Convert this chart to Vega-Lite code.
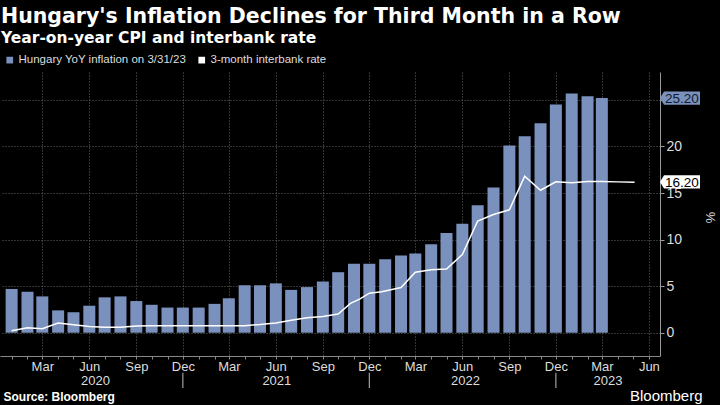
{
  "$schema": "https://vega.github.io/schema/vega-lite/v6.json",
  "width": 660,
  "height": 284,
  "autosize": {"type": "none"},
  "padding": {"left": 0, "top": 72, "right": 60, "bottom": 49},
  "background": "#000000",
  "title": {
    "text": "Hungary's Inflation Declines for Third Month in a Row",
    "subtitle": "Year-on-year CPI and interbank rate",
    "anchor": "start",
    "frame": "group",
    "dx": 1,
    "offset": 8,
    "font": "DejaVu Sans",
    "fontSize": 20.5,
    "fontWeight": "bold",
    "color": "#ffffff",
    "subtitleFont": "DejaVu Sans",
    "subtitleFontSize": 15.5,
    "subtitleFontWeight": "bold",
    "subtitleColor": "#ffffff",
    "subtitlePadding": 3
  },
  "config": {
    "view": {"stroke": null},
    "legend": {"orient": "none"}
  },
  "layer": [
    {
      "data": {
        "values": [
          {"date": "2020/01/01", "value": 4.7}, {"date": "2020/02/01", "value": 4.4}, {"date": "2020/03/01", "value": 3.9},
          {"date": "2020/04/01", "value": 2.4}, {"date": "2020/05/01", "value": 2.2}, {"date": "2020/06/01", "value": 2.9},
          {"date": "2020/07/01", "value": 3.8}, {"date": "2020/08/01", "value": 3.9}, {"date": "2020/09/01", "value": 3.4},
          {"date": "2020/10/01", "value": 3.0}, {"date": "2020/11/01", "value": 2.7}, {"date": "2020/12/01", "value": 2.7},
          {"date": "2021/01/01", "value": 2.7}, {"date": "2021/02/01", "value": 3.1}, {"date": "2021/03/01", "value": 3.7},
          {"date": "2021/04/01", "value": 5.1}, {"date": "2021/05/01", "value": 5.1}, {"date": "2021/06/01", "value": 5.3},
          {"date": "2021/07/01", "value": 4.6}, {"date": "2021/08/01", "value": 4.9}, {"date": "2021/09/01", "value": 5.5},
          {"date": "2021/10/01", "value": 6.5}, {"date": "2021/11/01", "value": 7.4}, {"date": "2021/12/01", "value": 7.4},
          {"date": "2022/01/01", "value": 7.9}, {"date": "2022/02/01", "value": 8.3}, {"date": "2022/03/01", "value": 8.5},
          {"date": "2022/04/01", "value": 9.5}, {"date": "2022/05/01", "value": 10.7}, {"date": "2022/06/01", "value": 11.7},
          {"date": "2022/07/01", "value": 13.7}, {"date": "2022/08/01", "value": 15.6}, {"date": "2022/09/01", "value": 20.1},
          {"date": "2022/10/01", "value": 21.1}, {"date": "2022/11/01", "value": 22.5}, {"date": "2022/12/01", "value": 24.5},
          {"date": "2023/01/01", "value": 25.7}, {"date": "2023/02/01", "value": 25.4}, {"date": "2023/03/01", "value": 25.2}
        ]
      },
      "mark": {"type": "bar", "size": 12},
      "encoding": {
        "x": {
          "field": "date", "type": "temporal",
          "scale": {"domain": [{"year": 2019, "month": 12, "date": 19}, {"year": 2023, "month": 6, "date": 13}]},
          "axis": {
            "orient": "bottom",
            "tickCount": {"interval": "month", "step": 1},
            "labelExpr": "month(datum.value) % 3 == 2 ? timeFormat(datum.value, '%b') : ''",
            "labelOverlap": false,
            "labelFlush": false,
            "labelFont": "Liberation Sans",
            "labelFontSize": 13,
            "labelColor": "#dddddd",
            "labelPadding": 1,
            "tickSize": 3,
            "tickColor": "#888888",
            "domainColor": "#888888",
            "grid": true,
            "gridColor": "#666666",
            "gridDash": [1, 2],
            "gridOpacity": {"condition": {"test": "month(datum.value) % 3 == 2", "value": 1}, "value": 0},
            "title": "Source: Bloomberg",
            "titleFont": "Liberation Sans",
            "titleFontSize": 12,
            "titleFontWeight": "bold",
            "titleColor": "#ffffff",
            "titleAnchor": "start",
            "titleAlign": "left",
            "titleBaseline": "alphabetic",
            "titleX": 3,
            "titleY": 44
          }
        },
        "y": {
          "field": "value", "type": "quantitative",
          "scale": {"domain": [-2.5, 28], "nice": false, "zero": false},
          "axis": {
            "orient": "right",
            "values": [0, 2.5, 5, 7.5, 10, 12.5, 15, 17.5, 20, 22.5, 25, 27.5],
            "labelExpr": "datum.value % 5 == 0 ? datum.label : ''",
            "labelFont": "Liberation Sans",
            "labelFontSize": 14,
            "labelColor": "#dddddd",
            "labelPadding": 2,
            "tickSize": 4,
            "tickColor": "#999999",
            "domainColor": "#999999",
            "grid": true,
            "gridColor": "#666666",
            "gridDash": [1, 2],
            "gridOpacity": {"condition": {"test": "datum.value % 5 == 0", "value": 1}, "value": 0},
            "title": "%",
            "titleFont": "Liberation Sans",
            "titleFontSize": 13,
            "titleFontWeight": "normal",
            "titleColor": "#dddddd",
            "titleAngle": 90,
            "titleBaseline": "middle",
            "titleAlign": "center",
            "titleX": 49,
            "titleY": 145
          }
        },
        "color": {
          "datum": "Hungary YoY inflation on 3/31/23", "type": "nominal",
          "scale": {"domain": ["Hungary YoY inflation on 3/31/23", "3-month interbank rate"], "range": ["#7a91bd", "#ffffff"]},
          "legend": {
            "title": null,
            "orient": "none",
            "legendX": 4,
            "legendY": -18,
            "direction": "horizontal",
            "symbolType": "square",
            "symbolSize": 45,
            "symbolStrokeWidth": 0,
            "labelFont": "Liberation Sans",
            "labelFontSize": 11.5,
            "labelColor": "#dddddd",
            "labelOffset": 3,
            "labelLimit": 400,
            "columnPadding": 9
          }
        }
      }
    },
    {
      "data": {
        "values": [
          {"date": "2020/01/01", "value": 0.22}, {"date": "2020/02/01", "value": 0.54}, {"date": "2020/03/01", "value": 0.43},
          {"date": "2020/04/01", "value": 1.04}, {"date": "2020/05/01", "value": 0.85}, {"date": "2020/06/01", "value": 0.68},
          {"date": "2020/07/01", "value": 0.58}, {"date": "2020/08/01", "value": 0.58}, {"date": "2020/09/01", "value": 0.72},
          {"date": "2020/10/01", "value": 0.75}, {"date": "2020/11/01", "value": 0.75}, {"date": "2020/12/01", "value": 0.75},
          {"date": "2021/01/01", "value": 0.75}, {"date": "2021/02/01", "value": 0.75}, {"date": "2021/03/01", "value": 0.75},
          {"date": "2021/04/01", "value": 0.76}, {"date": "2021/05/01", "value": 0.88}, {"date": "2021/06/01", "value": 1.05},
          {"date": "2021/07/01", "value": 1.35}, {"date": "2021/08/01", "value": 1.62}, {"date": "2021/09/01", "value": 1.75},
          {"date": "2021/10/01", "value": 2.0}, {"date": "2021/10/25", "value": 3.15}, {"date": "2021/11/12", "value": 3.6},
          {"date": "2021/12/01", "value": 4.25}, {"date": "2021/12/25", "value": 4.4}, {"date": "2022/02/01", "value": 4.85},
          {"date": "2022/03/01", "value": 6.5}, {"date": "2022/04/01", "value": 6.75}, {"date": "2022/05/01", "value": 6.85},
          {"date": "2022/06/01", "value": 8.4}, {"date": "2022/07/01", "value": 12.0}, {"date": "2022/08/01", "value": 12.7},
          {"date": "2022/09/01", "value": 13.2}, {"date": "2022/10/01", "value": 16.8}, {"date": "2022/11/01", "value": 15.3},
          {"date": "2022/12/01", "value": 16.2}, {"date": "2023/01/01", "value": 16.1}, {"date": "2023/02/01", "value": 16.25},
          {"date": "2023/03/01", "value": 16.25}, {"date": "2023/04/01", "value": 16.2}, {"date": "2023/05/04", "value": 16.15}
        ]
      },
      "mark": {"type": "line", "color": "#ffffff", "strokeWidth": 1.5},
      "encoding": {
        "x": {
          "field": "date", "type": "temporal",
          "axis": {
            "orient": "bottom",
            "values": [
              {"year": 2020, "month": 6, "date": 12},
              {"year": 2021, "month": 6, "date": 2},
              {"year": 2022, "month": 6, "date": 6},
              {"year": 2023, "month": 3, "date": 12}
            ],
            "labelExpr": "timeFormat(datum.value, '%Y')",
            "labelOverlap": false,
            "labelFlush": false,
            "labelFont": "Liberation Sans",
            "labelFontSize": 13,
            "labelColor": "#dddddd",
            "labelPadding": 2,
            "ticks": false,
            "tickSize": 0,
            "domain": false,
            "grid": false,
            "offset": 16,
            "title": "Bloomberg",
            "titleFont": "Liberation Sans",
            "titleFontSize": 15,
            "titleFontWeight": "normal",
            "titleColor": "#ffffff",
            "titleAnchor": "end",
            "titleAlign": "right",
            "titleBaseline": "alphabetic",
            "titleX": 702,
            "titleY": 28
          }
        },
        "y": {"field": "value", "type": "quantitative"}
      }
    },
    {
      "data": {
        "values": [
          {"date": "2020/12/01"},
          {"date": "2021/12/01"},
          {"date": "2022/12/01"}
        ]
      },
      "mark": {"type": "rule", "color": "#a0a0a0", "strokeWidth": 1.2, "clip": false},
      "encoding": {
        "x": {"field": "date", "type": "temporal", "axis": null},
        "y": {"datum": -4.3},
        "y2": {"datum": -5.95}
      }
    },
    {
      "data": {
        "values": [
          {"value": 25.2, "label": "25.20", "box": "#7a91bd", "txt": "#0e1a2e"},
          {"value": 16.2, "label": "16.20", "box": "#ffffff", "txt": "#000000"}
        ]
      },
      "mark": {
        "type": "point",
        "filled": true,
        "opacity": 1,
        "size": 1600,
        "shape": "M0,0L0.2,-0.33L2,-0.33L2,0.33L0.2,0.33Z"
      },
      "encoding": {
        "x": {"value": "width"},
        "y": {"field": "value", "type": "quantitative"},
        "fill": {"field": "box", "type": "nominal", "scale": null}
      }
    },
    {
      "data": {
        "values": [
          {"value": 25.2, "label": "25.20", "txt": "#0e1a2e"},
          {"value": 16.2, "label": "16.20", "txt": "#000000"}
        ]
      },
      "mark": {
        "type": "text",
        "align": "left",
        "baseline": "middle",
        "dx": 5,
        "dy": 1,
        "font": "Liberation Sans",
        "fontSize": 13.5
      },
      "encoding": {
        "x": {"value": "width"},
        "y": {"field": "value", "type": "quantitative"},
        "text": {"field": "label", "type": "nominal"},
        "fill": {"field": "txt", "type": "nominal", "scale": null}
      }
    }
  ],
  "resolve": {"axis": {"x": "independent"}, "scale": {"x": "shared"}}
}
